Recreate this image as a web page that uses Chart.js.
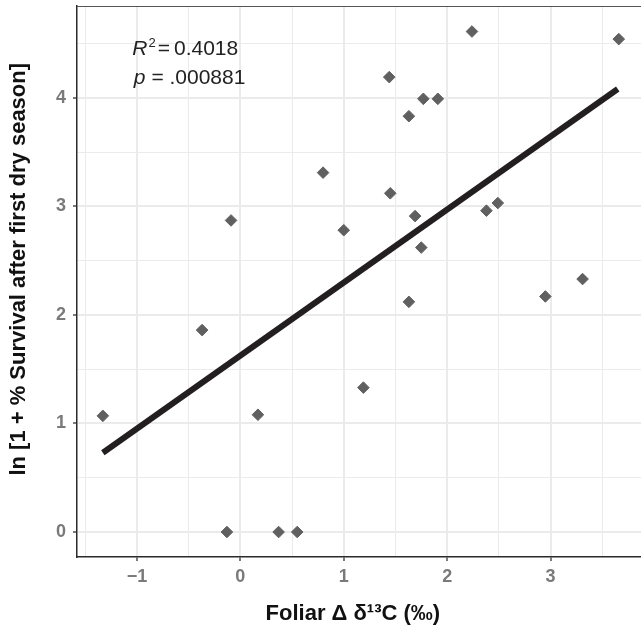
<!DOCTYPE html>
<html>
<head>
<meta charset="utf-8">
<script src="https://cdn.jsdelivr.net/npm/chart.js@4.4.0/dist/chart.umd.min.js"></script>
<style>
  html, body { margin: 0; padding: 0; background: #fff; }
  #wrap { width: 641px; height: 631px; position: relative; }
</style>
</head>
<body>
<div id="wrap"><canvas id="chart"></canvas></div>
<script>
// points: foliar delta d13C vs ln(1 + % survival)
const deltaC = [-1.33, -0.37, -0.13, 0.17, 0.37, 0.55, -0.09, 1.19,
  2.24, 3.66, 1.44, 1.77, 1.91, 1.63, 0.80, 1.45, 1.69, 1.00, 1.75,
  2.38, 2.49, 1.63, 2.95, 3.31];
const lnSurvival = [1.07, 1.86, 0.00, 1.08, 0.00, 0.00, 2.87, 1.33,
  4.61, 4.54, 4.19, 3.99, 3.99, 3.83, 3.31, 3.12, 2.91, 2.78, 2.62,
  2.96, 3.03, 2.12, 2.17, 2.33];

// fitted line, end points
const fitX = [-1.33, 3.65];
const fitY = [0.73, 4.08];

const xTicks = [-1, 0, 1, 2, 3];
const yTicks = [0, 1, 2, 3, 4];

const r2Text = '0.4018';
const pText = '.000881';

const pts = deltaC.map((x, i) => ({ x: x, y: lnSurvival[i] }));
const fitPts = fitX.map((x, i) => ({ x: x, y: fitY[i] }));

const isMajor = v => Math.abs(v - Math.round(v)) < 1e-6;
const FONT = '"Liberation Sans", Arial, sans-serif';

// top border + stats text
const extras = {
  id: 'extras',
  afterDraw(chart) {
    const ctx = chart.ctx;
    const a = chart.chartArea;
    const sx = chart.scales.x, sy = chart.scales.y;
    ctx.save();
    ctx.strokeStyle = '#555';
    ctx.lineWidth = 1.2;
    ctx.beginPath();
    ctx.moveTo(a.left, a.top + 0.5);
    ctx.lineTo(a.right, a.top + 0.5);
    ctx.stroke();

    ctx.fillStyle = '#222';
    ctx.textBaseline = 'alphabetic';
    let x = sx.getPixelForValue(-1.045);
    let y = sy.getPixelForValue(4.39);
    ctx.font = 'italic 21px ' + FONT;
    ctx.fillText('R', x, y);
    x += ctx.measureText('R').width + 1;
    ctx.font = '13px ' + FONT;
    ctx.fillText('2', x, y - 8);
    x += ctx.measureText('2').width + 2;
    ctx.font = '21px ' + FONT;
    ctx.fillText('=', x, y);
    x += ctx.measureText('=').width + 4;
    ctx.fillText(r2Text, x, y);

    x = sx.getPixelForValue(-1.03);
    y = sy.getPixelForValue(4.13);
    ctx.font = 'italic 21px ' + FONT;
    ctx.fillText('p', x, y);
    x += ctx.measureText('p').width;
    ctx.font = '21px ' + FONT;
    ctx.fillText(' = ' + pText, x, y);
    ctx.restore();
  }
};

const config = {
  type: 'scatter',
  data: {
    datasets: [
      {
        label: 'fit',
        type: 'line',
        data: fitPts,
        borderColor: '#231f20',
        borderWidth: 6,
        pointRadius: 0,
        fill: false,
        order: 1
      },
      {
        label: 'plots',
        data: pts,
        pointStyle: 'rectRot',
        pointRadius: 5.8,
        borderWidth: 1,
        backgroundColor: '#606060',
        borderColor: '#606060',
        order: 0
      }
    ]
  },
  options: {
    responsive: true,
    maintainAspectRatio: false,
    animation: false,
    layout: { autoPadding: false, padding: { top: 6, right: 0, left: 0, bottom: 0 } },
    plugins: {
      legend: { display: false },
      tooltip: { enabled: false }
    },
    scales: {
      x: {
        type: 'linear',
        min: -1.58,
        max: 3.875,
        afterFit: s => { s.height = 74; s.paddingLeft = 0; s.paddingRight = 0; },
        border: { display: true, color: '#2a2a2a', width: 1.5 },
        grid: {
          color: '#ebebeb',
          lineWidth: c => isMajor(c.tick.value) ? 2 : 1,
          tickColor: c => isMajor(c.tick.value) ? '#333' : 'rgba(0,0,0,0)',
          tickLength: 4,
          tickWidth: 1.3
        },
        ticks: {
          stepSize: 0.5,
          includeBounds: false,
          autoSkip: false,
          maxRotation: 0,
          padding: 5,
          color: '#7a7a7a',
          font: { family: FONT, size: 18, weight: 'bold' },
          callback: v => xTicks.includes(v) ? String(v).replace('-', '\u2212') : ''
        },
        title: {
          display: true,
          text: 'Foliar \u0394 \u03b4\u00b9\u00b3C (\u2030)\u00a0\u00a0',
          color: '#111',
          padding: { top: 0, bottom: 4 },
          font: { family: FONT, size: 22, weight: 'bold' }
        }
      },
      y: {
        type: 'linear',
        min: -0.23,
        max: 4.845,
        afterFit: s => { s.width = 77; s.paddingTop = 0; s.paddingBottom = 0; },
        border: { display: true, color: '#2a2a2a', width: 1.5 },
        grid: {
          color: '#ebebeb',
          lineWidth: c => isMajor(c.tick.value) ? 2 : 1,
          tickColor: c => isMajor(c.tick.value) ? '#333' : 'rgba(0,0,0,0)',
          tickLength: 4,
          tickWidth: 1.3
        },
        ticks: {
          stepSize: 0.5,
          includeBounds: false,
          autoSkip: false,
          padding: 7,
          color: '#7a7a7a',
          font: { family: FONT, size: 18, weight: 'bold' },
          callback: v => yTicks.includes(v) ? String(v) : ''
        },
        title: {
          display: true,
          text: '\u00a0\u00a0\u00a0\u00a0ln [1 + % Survival after first dry season]',
          color: '#111',
          padding: { top: 6, bottom: 0 },
          font: { family: FONT, size: 22, weight: 'bold' }
        }
      }
    }
  },
  plugins: [extras]
};

const myChart = new Chart(document.getElementById('chart'), config);
</script>
</body>
</html>
